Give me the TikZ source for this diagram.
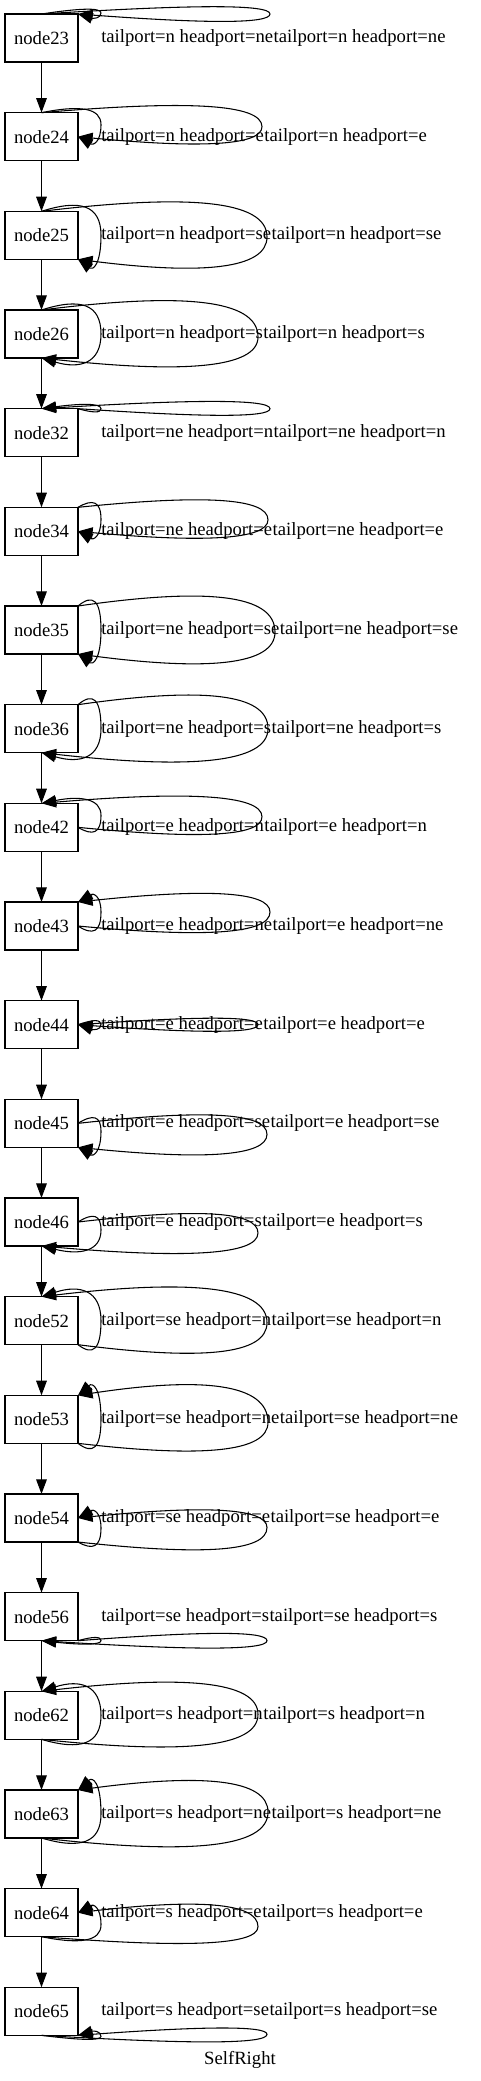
\documentclass[tikz,border=0pt]{standalone}
\usepackage{fontspec}
\setmainfont{Liberation Serif}
\usetikzlibrary{arrows.meta, positioning, calc}

\begin{document}
\begin{tikzpicture}[
    x=0.75pt, y=-0.75pt,
    node distance=38pt,
    box/.style={rectangle, draw, line width=0.8pt, minimum width=54.75pt,
                minimum height=36pt, inner sep=0pt, outer sep=0pt,
                font=\fontsize{14pt}{16pt}\selectfont},
    lbl/.style={inner sep=0pt, font=\fontsize{14pt}{16pt}\selectfont},
    arr/.style={-{Triangle[length=11pt, width=8pt]}, line width=0.8pt}
]
\useasboundingbox (0,0) rectangle (481,2081);

% the column of boxes
\node[box] (n23) at (41.5,38) {node23};
\node[box, below=of n23] (n24) {node24};
\node[box, below=of n24] (n25) {node25};
\node[box, below=of n25] (n26) {node26};
\node[box, below=of n26] (n32) {node32};
\node[box, below=of n32] (n34) {node34};
\node[box, below=of n34] (n35) {node35};
\node[box, below=of n35] (n36) {node36};
\node[box, below=of n36] (n42) {node42};
\node[box, below=of n42] (n43) {node43};
\node[box, below=of n43] (n44) {node44};
\node[box, below=of n44] (n45) {node45};
\node[box, below=of n45] (n46) {node46};
\node[box, below=of n46] (n52) {node52};
\node[box, below=of n52] (n53) {node53};
\node[box, below=of n53] (n54) {node54};
\node[box, below=of n54] (n56) {node56};
\node[box, below=of n56] (n62) {node62};
\node[box, below=of n62] (n63) {node63};
\node[box, below=of n63] (n64) {node64};
\node[box, below=of n64] (n65) {node65};

% straight edges
\foreach \u/\v in {n23/n24, n24/n25, n25/n26, n26/n32, n32/n34, n34/n35,
                   n35/n36, n36/n42, n42/n43, n43/n44, n44/n45, n45/n46,
                   n46/n52, n52/n53, n53/n54, n54/n56, n56/n62, n62/n63,
                   n63/n64, n64/n65}
  \draw[arr] (\u) -- (\v);

% edge labels, two per box
\foreach \nd/\tp/\hp in {n23/n/ne, n24/n/e, n25/n/se, n26/n/s,
                         n32/ne/n, n34/ne/e, n35/ne/se, n36/ne/s,
                         n42/e/n, n43/e/ne, n44/e/e, n45/e/se, n46/e/s,
                         n52/se/n, n53/se/ne, n54/se/e, n56/se/s,
                         n62/s/n, n63/s/ne, n64/s/e, n65/s/se}{
  \node[lbl, anchor=west] (l\nd) at ($(\nd)+(59.5,0)$) {tailport=\tp\ headport=\hp};
  \node[lbl, right=0pt of l\nd] (r\nd) {tailport=\tp\ headport=\hp};
}

% self loops: box / tail / head / tail side / right end / middle / head side
\foreach \nd/\tl/\hd/\a/\xr/\m/\b in {
    n23/north/north east/-33/228.5/-24/-15,   n23/north/north east/-30/59.5/-25/-20,
    n24/north/east/-30.7/220.5/-10/7.3,       n24/north/east/-27/59.5/-12/4,
    n25/north/south east/-31.4/225.5/1.6/30.6, n25/north/south east/-27/59.5/0/26,
    n26/north/south/-31/216.5/3/31,           n26/north/south/-27/59.5/0/26,
    n32/north east/north/-15.8/228.5/-24/-32.8, n32/north east/north/-20/59.5/-24/-29,
    n34/north east/east/-31.5/226.5/-11.5/6.5, n34/north east/east/-28/59.5/-12/4,
    n35/north east/south east/-32/233.5/2/32, n35/north east/south east/-27/59.5/0/26,
    n36/north east/south/-32/226.5/0/31,      n36/north east/south/-27/59.5/0/26,
    n42/east/north/7.4/220.5/-10.6/-30.6,     n42/east/north/4/59.5/-12/-27,
    n43/east/north east/6/228.5/-14/-33,      n43/east/north east/4/59.5/-14/-29,
    n44/east/east/-8/216.5/0/8,               n44/east/east/-5/59.5/0/5,
    n45/east/south east/-9/225.5/11/31,       n45/east/south east/-6/59.5/8/27,
    n46/east/south/-9/216.5/11/31,            n46/east/south/-6/59.5/8/27,
    n52/south east/north/31/225.5/2/-31,      n52/south east/north/26/59.5/0/-27,
    n53/south east/north east/30/226.5/3/-32, n53/south east/north east/26/59.5/0/-28,
    n54/south east/east/31.5/225.5/9.5/-8.5,  n54/south east/east/27/59.5/10/-5,
    n56/south east/south/15/225.5/24/33,      n56/south east/south/20/59.5/24/28,
    n62/south/north/29/216.5/-1/-31,          n62/south/north/26/59.5/0/-27,
    n63/south/north east/30.4/226.5/-2/-31.6, n63/south/north east/26/59.5/0/-28,
    n64/south/east/31/216.5/14/-8,            n64/south/east/27/59.5/12/-4,
    n65/south/south east/32/225.5/23/15,      n65/south/south east/29/59.5/25/20}{
  \pgfmathsetmacro\ap{(\a)+0.6*((\a)-(\m))}
  \pgfmathsetmacro\bp{(\b)+0.6*((\b)-(\m))}
  \pgfmathsetmacro\aq{(\m)+0.7*((\ap)-(\m))}
  \pgfmathsetmacro\bq{(\m)+0.7*((\bp)-(\m))}
  \coordinate (Q) at ($(\nd)+(\xr,\ap)$);
  \coordinate (P) at ($(\nd)+(\xr,\bp)$);
  \draw[arr] (\nd.\tl) .. controls ($(\nd.\tl)!0.65!(Q)$) and ($(\nd)+(\xr,\aq)$)
    .. ($(\nd)+(\xr,\m)$) .. controls ($(\nd)+(\xr,\bq)$) and ($(\nd.\hd)!0.65!(P)$) .. (\nd.\hd);
}

\node[lbl] (title) at (240,2060) {SelfRight};

\end{tikzpicture}
\end{document}
